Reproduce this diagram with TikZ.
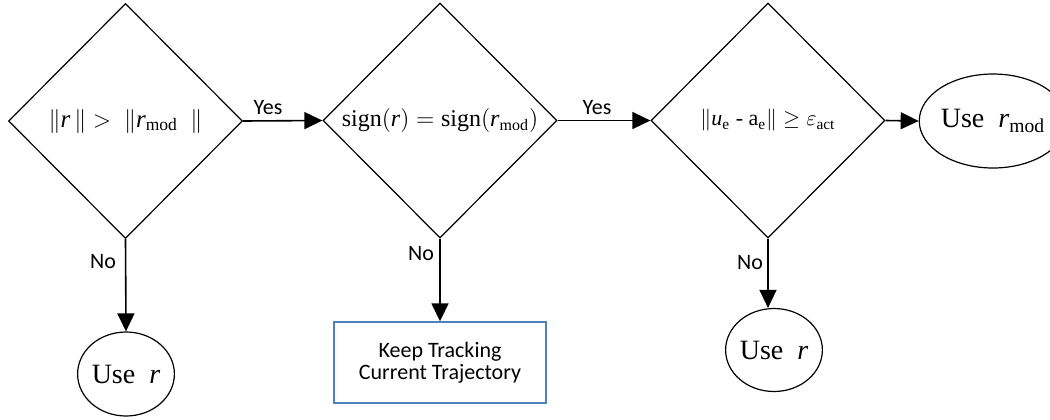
\documentclass[tikz,border=0pt]{standalone}
\usepackage{amsmath}
\usepackage{fontspec}
\setmainfont{Liberation Serif}
\newfontfamily\calibrifont{Carlito}
\usetikzlibrary{shapes.geometric,arrows.meta}
\definecolor{boxblue}{HTML}{4F81BD}
\tikzset{
  decision/.style={diamond, draw, line width=0.6pt, inner sep=0pt,
    minimum width=117pt, minimum height=117.5pt,
    font=\fontsize{12.5pt}{14pt}\selectfont},
  endnode/.style={ellipse, draw, line width=0.6pt, inner sep=0pt,
    font=\fontsize{14pt}{16pt}\selectfont},
  actbox/.style={rectangle, draw=boxblue, line width=0.7pt,
    minimum width=106pt, minimum height=40.5pt, align=center,
    font=\calibrifont\fontsize{11pt}{11pt}\selectfont},
  flow/.style={-{Triangle[length=9pt,width=8.5pt]}, line width=0.8pt},
  lbl/.style={font=\calibrifont\fontsize{11pt}{13pt}\selectfont, inner sep=0pt}
}
\begin{document}
\begin{tikzpicture}[x=0.5pt,y=-0.5pt]
\useasboundingbox (0,0) rectangle (1050,419);
\node[decision] (d1) at (125.5,121) {$\|\textit{r}\,\| > \ \|\textit{r}_{\text{mod}}\ \ \|$};
\node[decision, font=\fontsize{12pt}{14pt}\selectfont] (d2) at (440,120.5) {$\text{sign}(\textit{r}) = \text{sign}(\textit{r}_{\text{mod}})$};
\node[decision, font=\fontsize{11pt}{13pt}\selectfont] (d3) at (768,120.5) {$\|\textit{u}_{\text{e}}\ \text{- a}_{\text{e}}\| \geq \varepsilon_{\text{act}}$};
\node[endnode, minimum width=57pt, minimum height=47pt] (e2) at (993,121) {Use\ \ $\textit{r}_{\text{mod}}$};
\node[endnode, minimum width=48pt, minimum height=42pt] (e1) at (126,374) {Use\ \ $\textit{r}$};
\node[endnode, minimum width=47.5pt, minimum height=41.5pt] (e3) at (774,350) {Use\ \ $\textit{r}$};
\node[actbox] (b) at (440,362.5) {Keep Tracking\\Current Trajectory};
\draw[flow] (d1.east) -- (d2.west);
\draw[flow] (d2.east) -- (d3.west);
\draw[flow] (d3.east) -- (e2.west);
\draw[flow] (d1.south) -- (e1.north);
\draw[flow] (d2.south) -- (b.north);
\draw[flow] (d3.south) -- (d3.south |- e3.north);
\node[lbl] (y1) at (268,108) {Yes};
\node[lbl] (y2) at (597,108) {Yes};
\node[lbl] (n1) at (103,262) {No};
\node[lbl] (n2) at (421,254) {No};
\node[lbl] (n3) at (750,263) {No};
\end{tikzpicture}
\end{document}
